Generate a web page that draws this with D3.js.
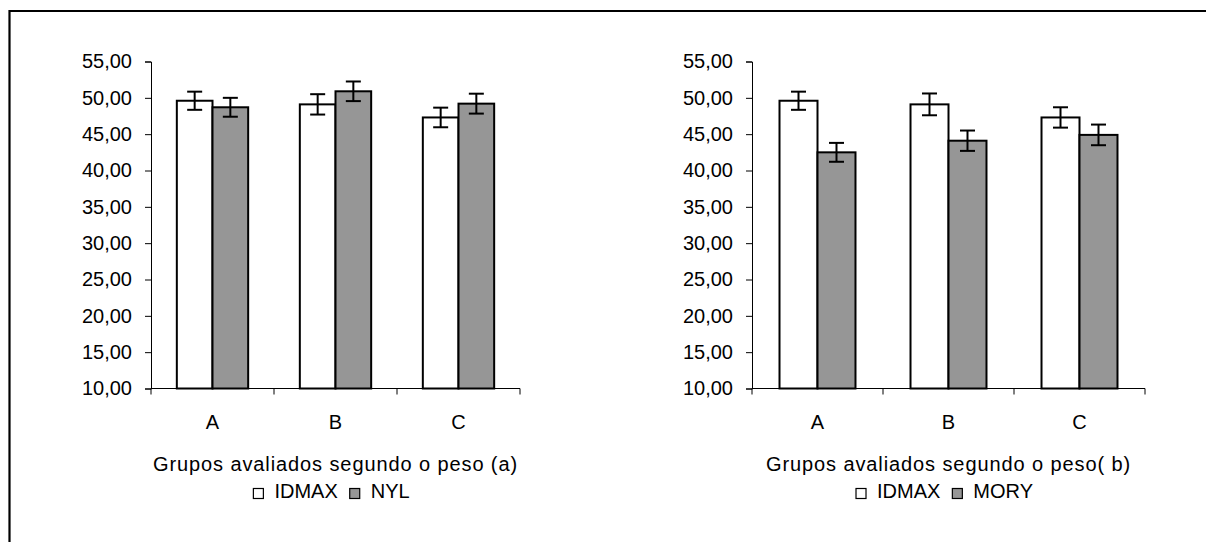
<!DOCTYPE html>
<html>
<head>
<meta charset="utf-8">
<script src="https://cdn.jsdelivr.net/npm/d3@7"></script>
<style>
  html, body { margin: 0; padding: 0; background: #ffffff; }
  svg { display: block; }
  text { font-family: Arial, "Liberation Sans", sans-serif; fill: #000; }
</style>
</head>
<body>
<svg id="chart" width="1206" height="542"></svg>
<script>
// Group categories and y-axis tick values
const categories = ["A", "B", "C"];
const yTicks = [10, 15, 20, 25, 30, 35, 40, 45, 50, 55];

// Panel (a): IDMAX vs NYL, means and error half-widths
const seriesA = ["IDMAX", "NYL"];
const idmaxA = [49.6, 49.1, 47.3];
const idmaxAErr = [1.25, 1.4, 1.35];
const nylA = [48.7, 50.9, 49.2];
const nylAErr = [1.3, 1.35, 1.37];

// Panel (b): IDMAX vs MORY
const seriesB = ["IDMAX", "MORY"];
const idmaxB = [49.6, 49.1, 47.3];
const idmaxBErr = [1.25, 1.5, 1.4];
const moryB = [42.5, 44.1, 44.9];
const moryBErr = [1.3, 1.4, 1.42];

const titles = ["Grupos avaliados segundo o peso (a)", "Grupos avaliados segundo o peso( b)"];
const fills = ["#ffffff", "#969696"];

const svg = d3.select("#chart");

// outer frame (left and top edges visible)
svg.append("path")
  .attr("d", "M9.5,542 L9.5,11 L1206,11")
  .attr("fill", "none")
  .attr("stroke", "#000")
  .attr("stroke-width", 2.2);

const fmt = v => d3.format(".2f")(v).replace(".", ",");

function panel(opts) {
  const { x0, x1, yTop, yBottom, series, values, errors, title } = opts;
  const g = svg.append("g");

  const y = d3.scaleLinear().domain([10, 55]).range([yBottom, yTop]);
  const xb = d3.scaleBand().domain(categories).range([x0, x1]).padding(0);
  const bw = xb.bandwidth();
  const xs = d3.scaleBand().domain(series).range([0.21 * bw, 0.79 * bw]).padding(0);

  // y axis
  const yAxis = d3.axisLeft(y).tickValues(yTicks).tickFormat(fmt).tickSize(6).tickPadding(13);
  const ya = g.append("g").attr("transform", `translate(${x0},0)`).call(yAxis);
  ya.select(".domain").attr("stroke", "#000").attr("stroke-width", 1);
  ya.selectAll(".tick line").attr("stroke", "#000");
  ya.selectAll(".tick text")
    .style("font-size", "20px")
    .attr("font-family", null);

  // bars
  series.forEach((s, si) => {
    g.selectAll(null)
      .data(categories.map((c, i) => ({ c, v: values[si][i], e: errors[si][i] })))
      .enter()
      .append("rect")
      .attr("x", d => xb(d.c) + xs(s))
      .attr("y", d => y(d.v))
      .attr("width", xs.bandwidth())
      .attr("height", d => y(10) - y(d.v))
      .attr("fill", fills[si])
      .attr("stroke", "#000")
      .attr("stroke-width", 2);
  });

  // x axis with ticks between categories
  g.append("line")
    .attr("x1", x0).attr("x2", x1)
    .attr("y1", y(10)).attr("y2", y(10))
    .attr("stroke", "#000").attr("stroke-width", 1);
  const bounds = categories.map(c => xb(c)).concat([x1]);
  g.selectAll(null).data(bounds).enter().append("line")
    .attr("x1", d => d).attr("x2", d => d)
    .attr("y1", y(10)).attr("y2", y(10) + 6)
    .attr("stroke", "#000").attr("stroke-width", 1);

  // error bars
  const cap = 7.5;
  series.forEach((s, si) => {
    categories.forEach((c, i) => {
      const v = values[si][i], e = errors[si][i];
      const cx = xb(c) + xs(s) + xs.bandwidth() / 2;
      const eg = g.append("g").attr("stroke", "#000").attr("stroke-width", 2);
      eg.append("line").attr("x1", cx).attr("x2", cx).attr("y1", y(v + e)).attr("y2", y(v - e));
      eg.append("line").attr("x1", cx - cap).attr("x2", cx + cap).attr("y1", y(v + e)).attr("y2", y(v + e));
      eg.append("line").attr("x1", cx - cap).attr("x2", cx + cap).attr("y1", y(v - e)).attr("y2", y(v - e));
    });
  });

  // category labels
  g.selectAll(null).data(categories).enter().append("text")
    .attr("x", d => xb(d) + bw / 2)
    .attr("y", 429)
    .attr("text-anchor", "middle")
    .style("font-size", "20px")
    .text(d => d);

  // axis title
  const cx = (x0 + x1) / 2;
  g.append("text")
    .attr("x", cx)
    .attr("y", 471)
    .attr("text-anchor", "middle")
    .style("font-size", "20px")
    .style("letter-spacing", "0.9px")
    .text(title);

  // legend
  const lg = g.append("g");
  let lx = 0;
  const items = [];
  series.forEach((s, si) => {
    const it = lg.append("g").attr("transform", `translate(${lx},0)`);
    it.append("rect").attr("x", 0).attr("y", -9.5).attr("width", 10).attr("height", 10)
      .attr("fill", fills[si]).attr("stroke", "#000").attr("stroke-width", 1.2);
    const t = it.append("text").attr("x", 21).attr("y", 0).style("font-size", "20px").text(s);
    const w = t.node().getComputedTextLength();
    lx += 21 + w + 12;
    items.push(it);
  });
  const total = lx - 12;
  lg.attr("transform", `translate(${cx - total / 2 - 4},498)`);
}

panel({
  x0: 151, x1: 520, yTop: 61.5, yBottom: 388.5,
  series: seriesA, values: [idmaxA, nylA], errors: [idmaxAErr, nylAErr], title: titles[0]
});
panel({
  x0: 752, x1: 1145, yTop: 61.5, yBottom: 388.5,
  series: seriesB, values: [idmaxB, moryB], errors: [idmaxBErr, moryBErr], title: titles[1]
});
</script>
</body>
</html>
